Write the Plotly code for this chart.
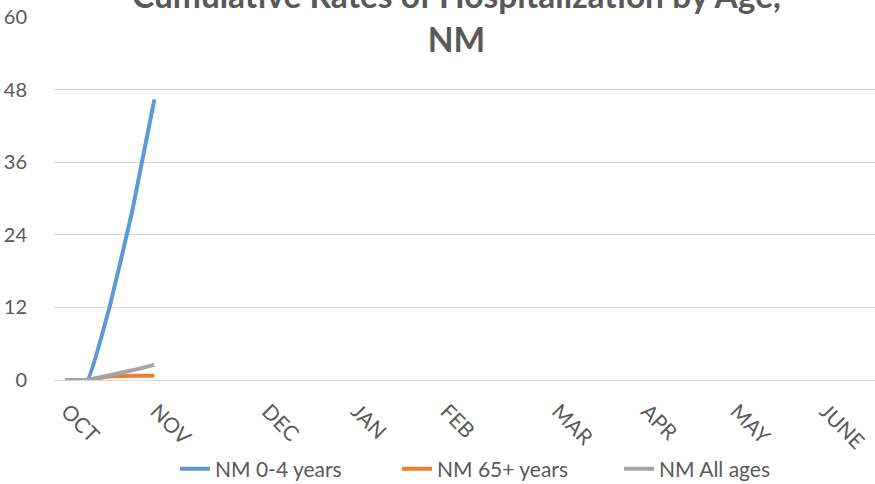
import plotly.graph_objects as go

# Week indices (weekly points since start of October)
weeks = [0, 1, 2, 3, 4]
rate_0_4 = [0, 0, 12.2, 27.8, 46.4]
rate_65 = [0, 0, 0.6, 0.7, 0.7]
rate_all = [0, 0, 0.8, 1.6, 2.5]

month_labels = ["OCT", "NOV", "DEC", "JAN", "FEB", "MAR", "APR", "MAY", "JUNE"]
month_week_idx = [0, 4, 9, 13, 17, 22, 26, 30, 34]

series = [
    ("NM 0-4 years", rate_0_4, "#5B9BD5"),
    ("NM 65+ years", rate_65, "#ED7D31"),
    ("NM All ages", rate_all, "#A5A5A5"),
]

FONT = "Lato, 'Open Sans', sans-serif"
GRAY = "#595959"

fig = go.Figure()
for name, vals, color in series:
    fig.add_trace(go.Scatter(
        x=weeks, y=vals, name=name, mode="lines",
        line=dict(color=color, width=4, shape="spline", smoothing=0.3),
    ))

fig.add_annotation(
    text="<b>Cumulative Rates of Hospitalization by Age,</b><br><b>NM</b>",
    font=dict(family=FONT, size=33.5, color=GRAY),
    xref="paper", yref="paper", x=(456 - 54) / 821, y=(380 - 61) / 363,
    xanchor="center", yanchor="bottom", showarrow=False, align="center",
)

fig.update_layout(
    width=875, height=484,
    margin=dict(l=54, r=0, t=17, b=104),
    paper_bgcolor="white", plot_bgcolor="white",
    font=dict(family=FONT, color=GRAY, size=21),
    showlegend=True,
    legend=dict(
        orientation="h", x=175 / 875, xanchor="left", xref="container",
        y=1 - 469 / 484, yanchor="middle", yref="container",
        font=dict(family=FONT, size=21, color=GRAY),
        entrywidth=177, entrywidthmode="pixels",
        bgcolor="rgba(0,0,0,0)",
    ),
    xaxis=dict(
        range=[-0.5, 36.3], tickmode="array",
        tickvals=month_week_idx, ticktext=month_labels,
        tickangle=45, showgrid=False, zeroline=False,
        showline=True, linecolor="#D9D9D9", linewidth=1,
        ticks="", ticklabelstandoff=10, ticklabelshift=2, automargin=False,
        tickfont=dict(family=FONT, size=21, color=GRAY),
    ),
    yaxis=dict(
        range=[0, 60], dtick=12, tick0=0,
        showgrid=True, gridcolor="#D9D9D9", gridwidth=1,
        zeroline=False, showline=False, ticks="",
        ticklabelstandoff=26, automargin=False,
        tickfont=dict(family=FONT, size=20, color=GRAY),
    ),
)

fig.write_html(
    "out.html",
    config={"displayModeBar": False},
    post_script="document.body.style.margin='0';",
)
